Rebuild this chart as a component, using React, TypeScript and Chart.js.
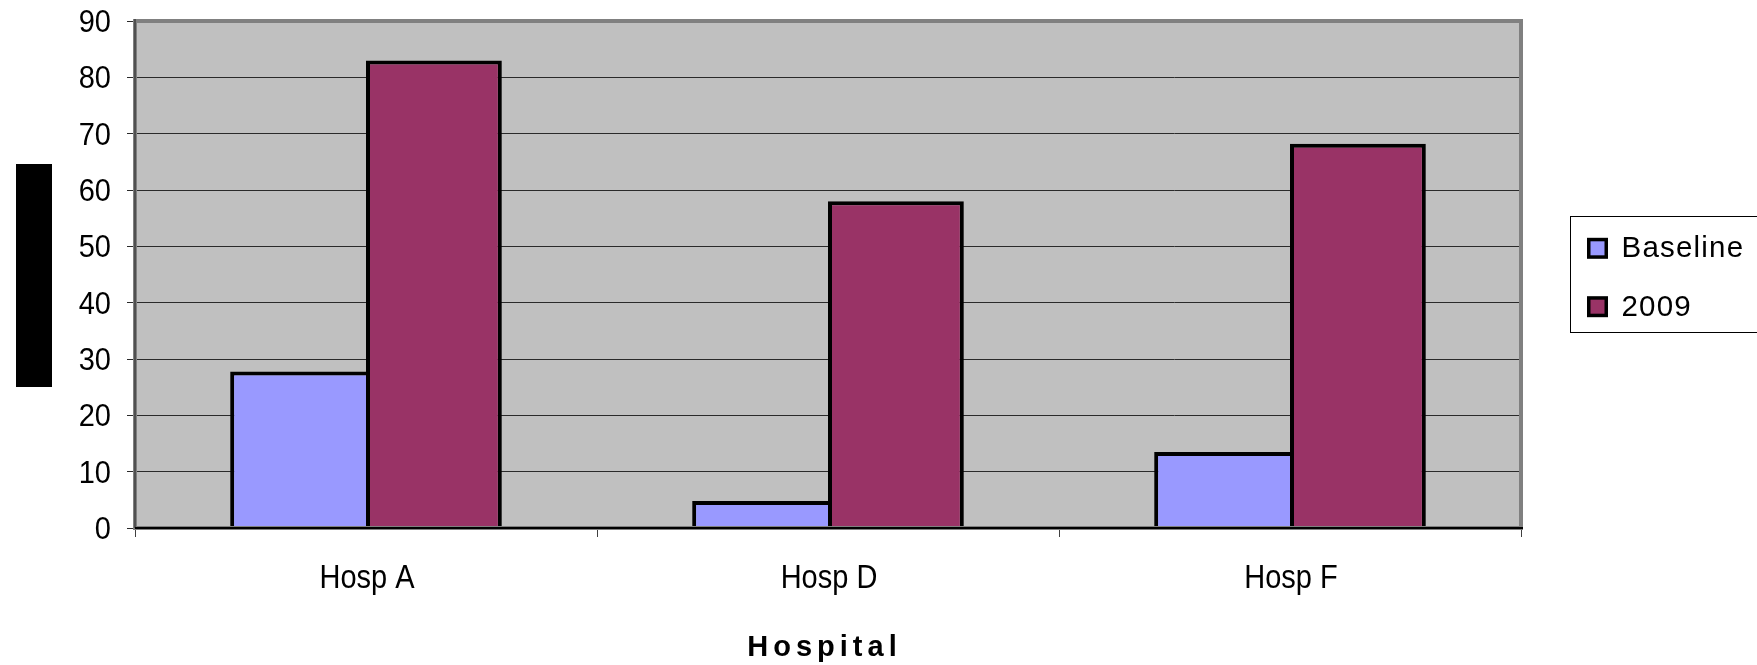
import React, { useEffect, useRef } from "react";
import { Chart, registerables } from "chart.js";

Chart.register(...registerables);

// Data
const hospitals = ["Hosp A", "Hosp D", "Hosp F"];
const seriesNames = ["Baseline", "2009"];
const baselineValues = [27.8, 4.8, 13.5];
const values2009 = [83, 58, 68.2];
const seriesColors = ["#9999FF", "#993366"];
const yMin = 0;
const yMax = 90;
const yStep = 10;
const xAxisTitle = "Hospital";

const FONT = "'Liberation Sans', Arial, Helvetica, sans-serif";
const W = 1757;
const H = 665;
const CAP = 0.716;

// Draws a line of text with a slight vertical stretch, anchored at its baseline
function tallText(ctx: CanvasRenderingContext2D, text: string, x: number, baseline: number, stretch: number, align: CanvasTextAlign) {
  ctx.save();
  ctx.translate(x, baseline);
  ctx.scale(1, stretch);
  ctx.textAlign = align;
  ctx.textBaseline = "alphabetic";
  ctx.fillText(text, 0, 0);
  ctx.restore();
}

// Plot-area background, frame, tick labels, legend and axis titles
const decorations = {
  id: "decorations",
  beforeDraw(chart: any) {
    const { ctx, chartArea: a } = chart;
    ctx.save();
    ctx.fillStyle = "#ffffff";
    ctx.fillRect(0, 0, chart.width, chart.height);
    ctx.fillStyle = "#C0C0C0";
    ctx.fillRect(a.left, a.top, a.right - a.left, a.bottom - a.top);
    ctx.restore();
  },
  afterDatasetsDraw(chart: any) {
    const { ctx, chartArea: a } = chart;
    ctx.save();
    ctx.strokeStyle = "#808080";
    ctx.lineWidth = 4;
    ctx.strokeRect(a.left, a.top, a.right - a.left, a.bottom - a.top);
    ctx.strokeStyle = "#404040";
    ctx.lineWidth = 1.5;
    ctx.beginPath();
    ctx.moveTo(a.left, a.top - 2);
    ctx.lineTo(a.left, a.bottom);
    ctx.stroke();
    ctx.strokeStyle = "#000000";
    ctx.lineWidth = 2;
    ctx.beginPath();
    ctx.moveTo(a.left, a.bottom);
    ctx.lineTo(a.right + 2, a.bottom);
    ctx.stroke();
    ctx.restore();
  },
  afterDraw(chart: any) {
    const { ctx, chartArea: a } = chart;
    const xs = chart.scales.x;
    const ys = chart.scales.y;
    ctx.save();
    ctx.fillStyle = "#000000";

    // y tick labels
    const ySize = 29;
    const yStretch = 1.05;
    ctx.font = `${ySize}px ${FONT}`;
    ys.ticks.forEach((t: any) => {
      const py = ys.getPixelForValue(t.value);
      tallText(ctx, String(t.label), 111, py + (CAP * ySize * yStretch) / 2, yStretch, "right");
    });

    // x tick labels
    const xSize = 29;
    const xStretch = 1.12;
    ctx.font = `${xSize}px ${FONT}`;
    chart.data.labels.forEach((lab: string, i: number) => {
      const px = xs.getPixelForValue(i);
      tallText(ctx, lab, px + 1, 588.3, xStretch, "center");
    });

    // y-axis title block
    ctx.fillRect(16, 164, 36, 223);

    // x-axis title
    ctx.font = `bold 29px ${FONT}`;
    ctx.textBaseline = "alphabetic";
    ctx.textAlign = "left";
    (ctx as any).letterSpacing = "5px";
    const tw = ctx.measureText(xAxisTitle).width - 5;
    const cx = (a.left + a.right) / 2 - 6;
    ctx.fillText(xAxisTitle, cx - tw / 2, 656);

    // legend
    const lx = 1570.5;
    const ly = 216.5;
    ctx.strokeStyle = "#000000";
    ctx.lineWidth = 1;
    ctx.strokeRect(lx, ly, 300, 116);
    const rows = [257.3, 315.7];
    ctx.font = `29.5px ${FONT}`;
    (ctx as any).letterSpacing = "1.2px";
    chart.data.datasets.forEach((d: any, i: number) => {
      const base = rows[i];
      const sy = base - 19.5;
      ctx.fillStyle = "#000000";
      ctx.fillRect(1587, sy, 21, 21);
      ctx.fillStyle = d.backgroundColor;
      ctx.fillRect(1590.5, sy + 3.5, 14, 14);
      ctx.fillStyle = "#000000";
      ctx.fillText(d.label, 1621.5, base);
    });
    (ctx as any).letterSpacing = "0px";

    ctx.restore();
  },
};

export default function App() {
  const ref = useRef<HTMLCanvasElement | null>(null);

  useEffect(() => {
    if (!ref.current) return;
    const chart = new Chart(ref.current, {
      type: "bar",
      data: {
        labels: hospitals,
        datasets: [
          {
            label: seriesNames[0],
            data: baselineValues,
            backgroundColor: seriesColors[0],
            borderColor: "#000000",
            borderWidth: { top: 4, left: 4, right: 0, bottom: 0 },
            categoryPercentage: 0.588,
            barPercentage: 1.0,
          },
          {
            label: seriesNames[1],
            data: values2009,
            backgroundColor: seriesColors[1],
            borderColor: "#000000",
            borderWidth: { top: 4, left: 4, right: 4, bottom: 0 },
            categoryPercentage: 0.588,
            barPercentage: 1.0,
          },
        ],
      },
      plugins: [decorations],
      options: {
        animation: false,
        responsive: false,
        maintainAspectRatio: false,
        layout: { padding: { top: 21, right: 236, left: 0, bottom: 0 } },
        plugins: {
          legend: { display: false },
          title: { display: false },
          tooltip: { enabled: false },
        },
        scales: {
          x: {
            grid: {
              offset: true,
              drawOnChartArea: false,
              drawTicks: true,
              tickLength: 9,
              tickColor: "#404040",
              tickWidth: 1,
            },
            border: { display: false },
            ticks: { display: false },
            afterFit(scale: any) {
              scale.height = 137;
            },
          },
          y: {
            min: yMin,
            max: yMax,
            grid: {
              color: "#2a2a2a",
              lineWidth: 1,
              drawTicks: true,
              tickLength: 8,
              tickColor: "#2a2a2a",
            },
            border: { display: false },
            ticks: { display: false, stepSize: yStep },
            afterFit(scale: any) {
              scale.width = 135;
            },
          },
        },
      },
    } as any);
    return () => chart.destroy();
  }, []);

  return (
    <div style={{ position: "fixed", left: 0, top: 0, width: W, height: H, background: "#fff" }}>
      <canvas ref={ref} width={W} height={H} style={{ display: "block", width: W, height: H }} />
    </div>
  );
}
